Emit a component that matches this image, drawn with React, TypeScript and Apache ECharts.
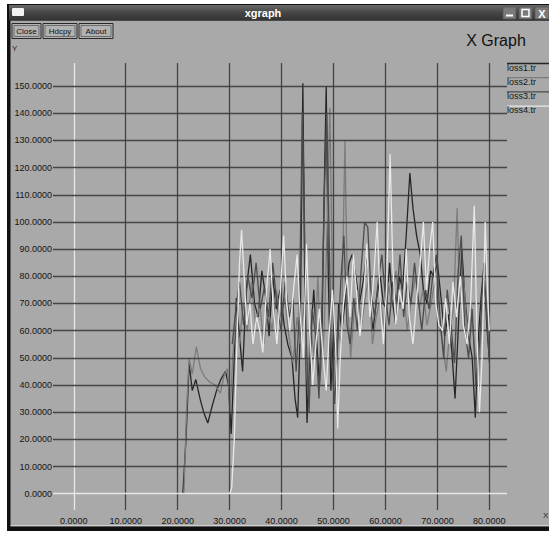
import React, { useEffect, useRef } from "react";
import * as echarts from "echarts";

const xTicks = [0, 10, 20, 30, 40, 50, 60, 70, 80];
const yTicks = [0, 10, 20, 30, 40, 50, 60, 70, 80, 90, 100, 110, 120, 130, 140, 150];
const seriesNames = ["loss1.tr", "loss2.tr", "loss3.tr", "loss4.tr"];
const seriesColors = ["#262626", "#7c7c7c", "#4c4c4c", "#e8e8e8"];

const loss1X = [21.0, 21.6, 22.2, 22.8, 23.5, 24.3, 25.0, 25.8, 26.6, 27.5, 28.3, 29.2, 29.8, 30.3, 30.8, 31.3, 31.8, 32.5, 33.2, 34.0, 34.8, 35.5, 36.2, 37.0, 37.6, 38.3, 39.0, 39.7, 40.5, 41.2, 42.0, 42.6, 43.1, 43.6, 44.1, 44.5, 44.9, 45.5, 46.2, 46.8, 47.3, 47.8, 48.2, 48.6, 49.0, 49.5, 50.0, 50.5, 51.0, 51.6, 52.3, 53.0, 53.6, 54.3, 55.0, 55.7, 56.4, 57.0, 57.6, 58.3, 59.0, 59.6, 60.2, 60.8, 61.4, 62.0, 62.7, 63.3, 64.0, 64.7, 65.3, 66.0, 66.7, 67.3, 68.0, 68.7, 69.3, 70.0, 70.7, 71.4, 72.1, 72.8, 73.4, 74.0, 74.7, 75.3, 76.0, 76.7, 77.3, 77.8, 78.4, 79.0, 79.5, 80.0];
const loss1Y = [0, 20, 48, 38, 42, 35, 30, 26, 32, 38, 42, 45, 40, 22, 45, 72, 60, 45, 75, 88, 70, 65, 82, 72, 58, 80, 68, 75, 62, 55, 50, 35, 28, 60, 151, 70, 26, 55, 75, 55, 40, 62, 110, 150, 80, 38, 60, 45, 70, 60, 72, 85, 88, 80, 70, 78, 88, 70, 60, 72, 80, 70, 68, 85, 70, 62, 80, 75, 95, 118, 105, 95, 88, 75, 70, 82, 80, 85, 72, 58, 66, 52, 35, 60, 90, 72, 58, 50, 28, 55, 72, 85, 62, 50];

const loss2X = [21.2, 21.7, 22.2, 22.8, 23.6, 24.4, 25.2, 26.2, 27.2, 28.2, 29.0, 29.6, 30.1, 30.6, 31.2, 31.9, 32.6, 33.4, 34.2, 35.0, 35.8, 36.6, 37.4, 38.2, 39.0, 39.8, 40.6, 41.4, 42.2, 43.0, 43.6, 44.3, 45.0, 45.6, 46.3, 47.0, 47.6, 48.2, 48.8, 49.3, 49.8, 50.3, 50.9, 51.5, 52.2, 52.7, 53.3, 54.0, 54.7, 55.4, 56.1, 56.8, 57.5, 58.2, 59.0, 59.8, 60.5, 61.2, 62.0, 62.8, 63.5, 64.2, 65.0, 65.8, 66.5, 67.2, 68.0, 68.8, 69.5, 70.2, 71.0, 71.7, 72.4, 73.1, 73.8, 74.3, 75.0, 75.7, 76.4, 77.1, 77.8, 78.5, 79.2, 79.7, 80.0];
const loss2Y = [0, 30, 50, 44, 54, 46, 43, 41, 40, 37, 44, 46, 30, 50, 65, 55, 70, 60, 78, 62, 70, 55, 68, 60, 75, 65, 72, 58, 48, 65, 55, 70, 40, 62, 50, 80, 45, 60, 100, 142, 75, 40, 60, 55, 130, 70, 50, 68, 75, 62, 72, 80, 55, 65, 72, 60, 78, 70, 82, 68, 75, 60, 72, 80, 68, 75, 62, 70, 78, 65, 55, 45, 60, 68, 105, 70, 80, 60, 70, 55, 40, 62, 85, 60, 55];

const loss3X = [30.5, 31.2, 31.9, 32.7, 33.5, 34.3, 35.1, 35.9, 36.7, 37.5, 38.3, 39.1, 39.9, 40.7, 41.5, 42.2, 42.8, 43.4, 44.0, 44.3, 44.7, 45.3, 45.9, 46.6, 47.2, 47.8, 48.3, 48.7, 49.1, 49.6, 50.2, 50.8, 51.4, 52.0, 52.6, 53.2, 53.9, 54.6, 55.3, 56.0, 56.6, 57.2, 57.9, 58.6, 59.3, 60.0, 60.7, 61.4, 62.1, 62.8, 63.5, 64.2, 64.9, 65.6, 66.3, 67.0, 67.7, 68.4, 69.1, 69.8, 70.5, 71.2, 71.9, 72.6, 73.3, 74.0, 74.6, 75.3, 76.0, 76.7, 77.4, 78.1, 78.8, 79.4, 80.0];
const loss3Y = [55, 68, 78, 62, 80, 72, 85, 68, 76, 65, 85, 70, 60, 78, 65, 72, 45, 65, 140, 115, 60, 30, 68, 58, 35, 70, 115, 140, 100, 50, 33, 55, 78, 95, 62, 55, 72, 60, 82, 100, 98, 75, 65, 78, 88, 72, 62, 78, 70, 88, 65, 78, 70, 85, 72, 60, 75, 68, 80, 88, 65, 50, 75, 62, 48, 82, 95, 60, 50, 68, 40, 55, 80, 70, 48];

const loss4X = [30.0, 30.4, 30.9, 31.4, 31.9, 32.3, 32.8, 33.3, 33.9, 34.5, 35.2, 35.8, 36.4, 37.1, 37.8, 38.4, 39.1, 39.8, 40.4, 41.0, 41.6, 42.3, 43.0, 43.6, 44.2, 44.8, 45.4, 46.0, 46.6, 47.3, 48.0, 48.6, 49.2, 49.8, 50.4, 50.8, 51.3, 51.9, 52.6, 53.2, 53.8, 54.4, 55.1, 55.8, 56.4, 57.0, 57.7, 58.4, 59.0, 59.6, 60.2, 60.9, 61.4, 62.0, 62.7, 63.4, 64.0, 64.6, 65.3, 66.0, 66.7, 67.3, 67.9, 68.5, 69.1, 69.7, 70.3, 71.0, 71.6, 72.3, 73.0, 73.7, 74.4, 75.0, 75.7, 76.4, 77.1, 77.6, 78.1, 78.6, 79.2, 79.7, 80.0];
const loss4Y = [0, 2, 20, 55, 85, 97, 80, 62, 70, 55, 65, 60, 52, 75, 90, 68, 55, 75, 95, 70, 60, 75, 88, 65, 50, 92, 60, 40, 55, 68, 50, 38, 60, 75, 55, 24, 50, 70, 80, 65, 88, 75, 58, 72, 92, 65, 78, 100, 70, 55, 75, 125, 85, 62, 75, 68, 90, 65, 55, 72, 85, 100, 75, 90, 100, 70, 62, 60, 72, 55, 78, 65, 80, 62, 55, 70, 106, 60, 30, 50, 100, 72, 60];

const allX = [loss1X, loss2X, loss3X, loss4X];
const allY = [loss1Y, loss2Y, loss3Y, loss4Y];

const FONT = '"Liberation Sans", Arial, Helvetica, sans-serif';

export default function App() {
  const ref = useRef<HTMLDivElement>(null);
  useEffect(() => {
    if (!ref.current) return;
    const chart = echarts.init(ref.current, undefined, { renderer: "svg" });

    const gridLine = (c: string) => ({ color: c, width: 1.3, type: "solid" as const, opacity: 0.9 });
    const markData: any[] = [];
    xTicks.forEach((v) =>
      markData.push({ xAxis: v, lineStyle: v === 0 ? gridLine("#eeeeee") : gridLine("#3a3a3a") })
    );
    yTicks.forEach((v) =>
      markData.push({ yAxis: v, lineStyle: v === 0 ? gridLine("#eeeeee") : gridLine("#3a3a3a") })
    );

    const dataSeries = seriesNames.map((name, i) => ({
      name,
      type: "line",
      z: 3 + i,
      showSymbol: false,
      symbol: "none",
      silent: true,
      lineStyle: { color: seriesColors[i], width: 1.3 },
      data: allX[i].map((x, k) => [x, allY[i][k]]),
    }));

    const legendGraphics: any[] = [];
    seriesNames.forEach((name, i) => {
      const ly = 63.5 + i * 14.2;
      legendGraphics.push({
        type: "line",
        shape: { x1: 507, y1: ly, x2: 549, y2: ly },
        style: { stroke: seriesColors[i], lineWidth: 1.3 },
        z: 10,
      });
      legendGraphics.push({
        type: "text",
        x: 507,
        y: ly + 4.2,
        style: { text: name, fill: "#151515", font: `9px ${FONT}`, textVerticalAlign: "middle" },
        z: 10,
      });
    });

    const button = (x: number, w: number, label: string) => ({
      type: "group",
      children: [
        { type: "rect", shape: { x: x, y: 23.5, width: w, height: 15 }, style: { fill: "#b2b2b2", stroke: "#2a2a2a", lineWidth: 1 } },
        { type: "rect", shape: { x: x + 2, y: 25.5, width: w - 4, height: 11 }, style: { fill: "none", stroke: "#5a5a5a", lineWidth: 0.8 } },
        { type: "text", x: x + w / 2, y: 31.5, style: { text: label, fill: "#111", font: `8px ${FONT}`, textAlign: "center", textVerticalAlign: "middle" } },
      ],
    });

    chart.setOption({
      animation: false,
      backgroundColor: "#ffffff",
      grid: { left: 53, right: 42, top: 63, bottom: 23, containLabel: false },
      xAxis: {
        type: "value",
        min: -4,
        max: 83.4,
        interval: 2,
        axisLine: { show: false },
        axisTick: { show: false },
        splitLine: { show: false },
        axisLabel: {
          margin: 6,
          color: "#151515",
          fontSize: 9,
          fontFamily: FONT,
          showMinLabel: true,
          showMaxLabel: false,
          formatter: (v: number) => (xTicks.some((t) => Math.abs(t - v) < 1e-6) ? v.toFixed(4) : ""),
        },
      },
      yAxis: {
        type: "value",
        min: -6,
        max: 158.5,
        interval: 2,
        axisLine: { show: false },
        axisTick: { show: false },
        splitLine: { show: false },
        axisLabel: {
          margin: 1,
          color: "#151515",
          fontSize: 9,
          fontFamily: FONT,
          showMaxLabel: false,
          formatter: (v: number) => (yTicks.some((t) => Math.abs(t - v) < 1e-6) ? v.toFixed(4) : ""),
        },
      },
      graphic: [
        // window frame
        { type: "rect", z: -10, shape: { x: 7, y: 4, width: 545, height: 527 }, style: { fill: "#111111" } },
        { type: "rect", z: -9, shape: { x: 10.5, y: 20.5, width: 540, height: 506 }, style: { fill: "#a9a9a9" } },
        { type: "line", z: -8, shape: { x1: 10.5, y1: 525.5, x2: 549, y2: 525.5 }, style: { stroke: "#d0d0d0", lineWidth: 1 } },
        {
          type: "rect",
          z: -8,
          shape: { x: 9, y: 5, width: 542, height: 15.5 },
          style: {
            fill: new echarts.graphic.LinearGradient(0, 0, 0, 1, [
              { offset: 0, color: "#6a6a6a" },
              { offset: 0.5, color: "#454545" },
              { offset: 1, color: "#333333" },
            ]),
          },
        },
        { type: "rect", z: -7, shape: { x: 12, y: 8, width: 12, height: 8, r: 1 }, style: { fill: "#f2f2f2" } },
        { type: "text", z: -7, x: 263, y: 13, style: { text: "xgraph", fill: "#ffffff", font: `bold 11px ${FONT}`, textAlign: "center", textVerticalAlign: "middle" } },
        { type: "rect", z: -7, shape: { x: 503, y: 7, width: 13, height: 12 }, style: { fill: "#7a7a7a", stroke: "#555", lineWidth: 0.8 } },
        { type: "rect", z: -7, shape: { x: 519, y: 7, width: 13, height: 12 }, style: { fill: "#7a7a7a", stroke: "#555", lineWidth: 0.8 } },
        { type: "rect", z: -7, shape: { x: 535, y: 7, width: 14, height: 12 }, style: { fill: "#7a7a7a", stroke: "#555", lineWidth: 0.8 } },
        { type: "line", z: -6, shape: { x1: 506, y1: 15.5, x2: 513, y2: 15.5 }, style: { stroke: "#fff", lineWidth: 2 } },
        { type: "rect", z: -6, shape: { x: 522, y: 9.5, width: 7, height: 7 }, style: { fill: "none", stroke: "#fff", lineWidth: 1.5 } },
        { type: "text", z: -6, x: 542, y: 13.5, style: { text: "X", fill: "#fff", font: `bold 11px ${FONT}`, textAlign: "center", textVerticalAlign: "middle" } },
        button(12, 29, "Close"),
        button(43, 34, "Hdcpy"),
        button(79, 34, "About"),
        { type: "text", x: 496, y: 40, style: { text: "X Graph", fill: "#111", font: `16px ${FONT}`, textAlign: "center", textVerticalAlign: "middle" } },
        { type: "text", x: 12, y: 48, style: { text: "Y", fill: "#222", font: `8px ${FONT}`, textVerticalAlign: "middle" } },
        { type: "text", x: 543, y: 515, style: { text: "X", fill: "#222", font: `8px ${FONT}`, textVerticalAlign: "middle" } },
        ...legendGraphics,
      ],
      series: [
        {
          name: "grid",
          type: "line",
          z: 1,
          silent: true,
          data: [],
          markLine: {
            silent: true,
            symbol: "none",
            animation: false,
            label: { show: false },
            data: markData,
          },
        },
        ...dataSeries,
      ],
    });
    return () => chart.dispose();
  }, []);
  return <div ref={ref} style={{ position: "absolute", left: 0, top: 0, width: 549, height: 533 }} />;
}
